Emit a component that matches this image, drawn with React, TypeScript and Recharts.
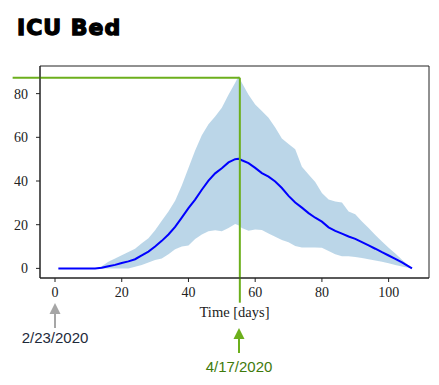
import React from 'react';
import { ComposedChart, Area, Line, XAxis, YAxis, ReferenceLine, ReferenceArea } from 'recharts';

const days = [1, 12, 14, 16, 18, 20, 22, 24, 26, 28, 30, 32, 34, 36, 38, 40, 42, 44, 46, 48, 50, 52, 54, 55, 56, 58, 60, 62, 64, 66, 68, 70, 72, 74, 76, 78, 80, 82, 84, 86, 88, 90, 92, 94, 96, 98, 100, 102, 104, 107];
const meanBeds = [0, 0, 0.3, 1.0, 1.6, 2.5, 3.2, 4.2, 6.0, 7.7, 10, 12.6, 15.5, 19, 23.2, 27.6, 31.5, 36, 40.2, 43.5, 45.8, 48.5, 50, 50.2, 49.5, 48.2, 46, 43.6, 42, 39.8, 36.8, 33.2, 30.2, 27.8, 25.3, 23.2, 21.4, 18.8, 17.2, 15.9, 14.6, 13.5, 12, 10.5, 9, 7.4, 5.9, 4.4, 2.8, 0];
const upperBeds = [0, 0, 1.0, 3.0, 4.5, 6.0, 7.5, 9.0, 11.5, 13.8, 17.5, 21.8, 26, 31, 38, 46, 54, 61, 66, 69.5, 73.5, 79.5, 85, 88, 85, 79.5, 75, 72, 69, 64.5, 59.5, 57, 54.5, 46.5, 43, 39.5, 34.5, 31.5, 30.6, 30.2, 26, 24.8, 21.5, 18.5, 15.3, 12.3, 9.5, 6.8, 4, 0];
const lowerBeds = [0, 0, 0, 0, 0, 0, 0, 0.8, 1.5, 2.7, 3.8, 4.5, 6.5, 8.8, 10, 10.5, 13.5, 15.5, 17, 17.5, 17, 18.5, 20.3, 19.8, 18.5, 17.2, 17.8, 17.6, 16, 14.5, 13, 12, 10.2, 9.6, 9.6, 9.6, 9.5, 8, 6.5, 5.5, 5.5, 5.2, 4.8, 4.2, 3.6, 3, 2.3, 1.6, 0.9, 0];

const xTicks = [0, 20, 40, 60, 80, 100];
const yTicks = [0, 20, 40, 60, 80];
const xDomain = [-4.5, 112.1];
const yDomain = [-4.4, 92.65];

const peakDay = 55.4;
const peakValue = 87.3;
const startLabel = '2/23/2020';
const peakLabel = '4/17/2020';

const data = days.map((d, i) => ({
  day: d,
  mean: meanBeds[i],
  band: [lowerBeds[i], upperBeds[i]],
}));

const GREEN = '#6caf1c';
const serif = '"Liberation Serif", "DejaVu Serif", serif';

export default function App() {
  return (
    <div style={{ position: 'absolute', left: 0, top: 0, width: 439, height: 385, background: '#fff' }}>
      <ComposedChart
        width={439}
        height={385}
        data={data}
        margin={{ top: 66, right: 10, bottom: 57, left: 0 }}
      >
        <XAxis
          dataKey="day"
          type="number"
          domain={xDomain}
          ticks={xTicks}
          allowDataOverflow
          height={50}
          tickSize={4}
          tickMargin={5}
          stroke="#222"
          tick={{ fill: '#222', fontSize: 14, fontFamily: serif }}
          label={{ value: 'Time [days]', position: 'insideBottom', offset: 11, fill: '#222', fontSize: 14.5, fontFamily: serif }}
        />
        <YAxis
          type="number"
          domain={yDomain}
          ticks={yTicks}
          allowDataOverflow
          width={40}
          tickSize={4}
          tickMargin={8}
          stroke="#222"
          tick={{ fill: '#222', fontSize: 14, fontFamily: serif }}
        />
        <Area
          dataKey="band"
          type="linear"
          stroke="none"
          fill="#1f77b4"
          fillOpacity={0.3}
          isAnimationActive={false}
        />
        <Line
          dataKey="mean"
          type="linear"
          stroke="#0000ff"
          strokeWidth={2}
          dot={false}
          isAnimationActive={false}
        />
        <ReferenceArea x1={xDomain[0]} x2={xDomain[1]} y1={yDomain[0]} y2={yDomain[1]} fill="none" stroke="#222" strokeWidth={1} ifOverflow="visible" />
        <ReferenceLine segment={[{ x: -12.7, y: peakValue }, { x: peakDay, y: peakValue }]} stroke={GREEN} strokeWidth={2} ifOverflow="visible" />
        <ReferenceLine segment={[{ x: peakDay, y: peakValue }, { x: peakDay, y: -15.7 }]} stroke={GREEN} strokeWidth={2} ifOverflow="visible" />
      </ComposedChart>
      <svg width={439} height={385} style={{ position: 'absolute', left: 0, top: 0, pointerEvents: 'none' }}>
        <text x={17} y={35} fontFamily='"DejaVu Sans", sans-serif' fontWeight="bold" fontSize={22} letterSpacing={1} stroke="#000" strokeWidth={1.3} fill="#000">ICU Bed</text>
        <line x1={55} y1={328} x2={55} y2={311} stroke="#a6a6a6" strokeWidth={2} />
        <polygon points="55,303 49.5,314 60.5,314" fill="#a6a6a6" />
        <text x={55} y={343} textAnchor="middle" fontFamily='"Liberation Sans", sans-serif' fontSize={15} fill="#1e2a3a">{startLabel}</text>
        <line x1={239} y1={353} x2={239} y2={336} stroke={GREEN} strokeWidth={2} />
        <polygon points="239,328 233.5,339 244.5,339" fill={GREEN} />
        <text x={239} y={372} textAnchor="middle" fontFamily='"Liberation Sans", sans-serif' fontSize={15} fill="#3f7a0c">{peakLabel}</text>
      </svg>
    </div>
  );
}
